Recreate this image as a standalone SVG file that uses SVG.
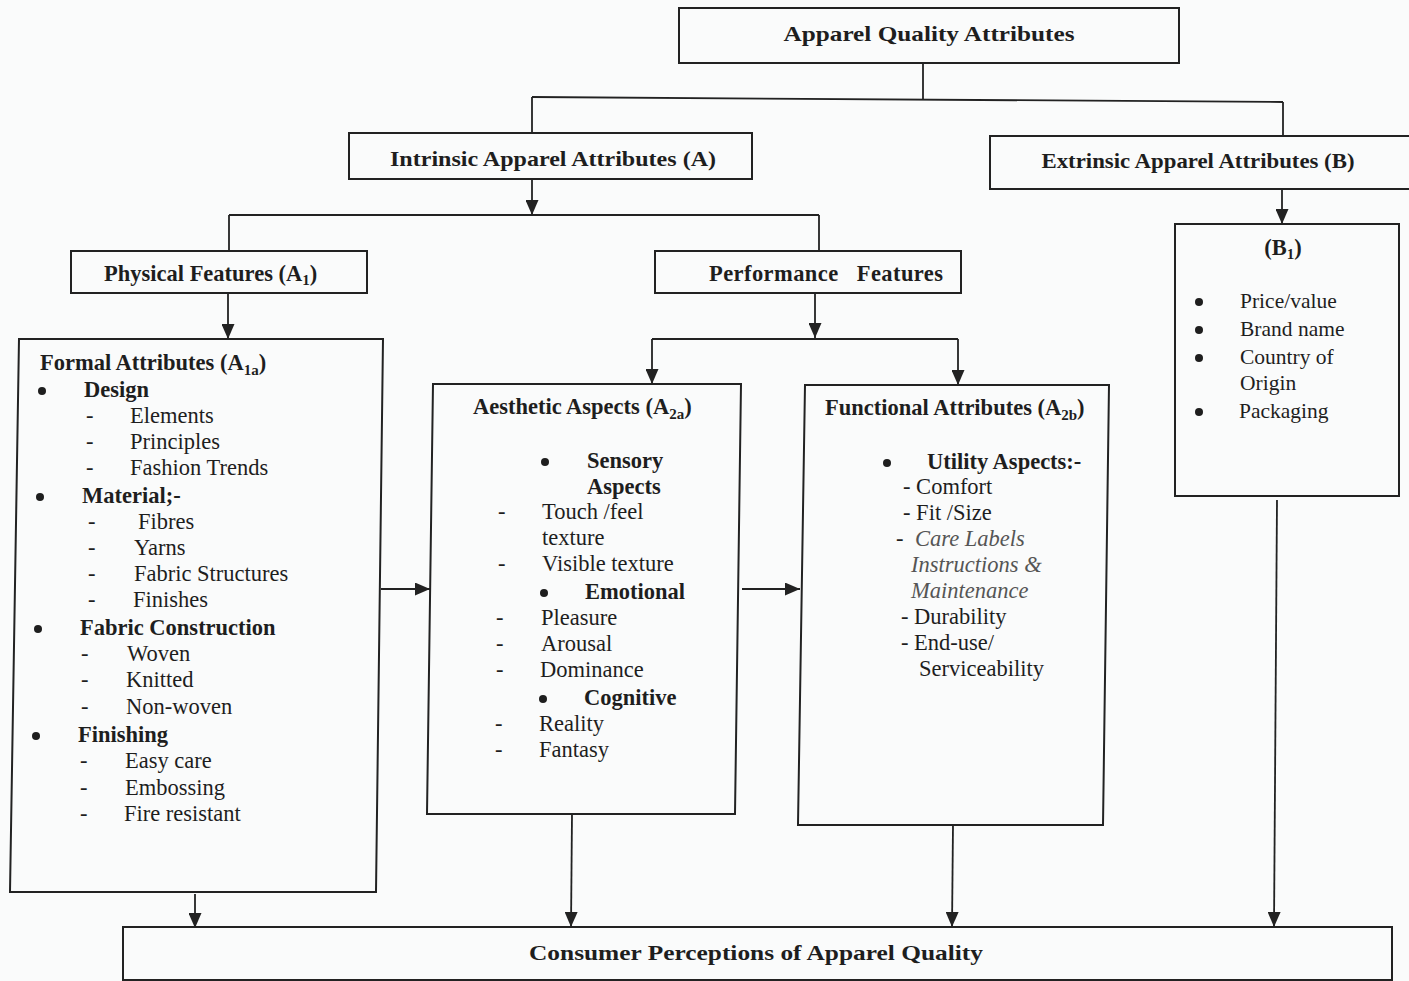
<svg xmlns="http://www.w3.org/2000/svg" width="1409" height="981" viewBox="0 0 1409 981">
<style>
.box{fill:none;stroke:#222;stroke-width:2}
.ln{fill:none;stroke:#222;stroke-width:1.8}
.arr{fill:none;stroke:#222;stroke-width:1.8;marker-end:url(#ah)}
.dot{fill:#1e1e1e}
text{font-family:"Liberation Serif","Times New Roman",serif;fill:#1e1e1e}
.h{font-weight:bold;font-size:22px}
.t{font-size:22.5px}
.b{font-weight:bold;font-size:22.5px}
.i{font-style:italic;font-size:22.5px;fill:#555}
.s{font-size:21.5px}
.sub{font-size:15px}
</style>
<defs>
<marker id="ah" markerWidth="15" markerHeight="13" refX="15" refY="6.5" orient="auto" markerUnits="userSpaceOnUse">
<path d="M0,0 L15,6.5 L0,13 z" fill="#222"/>
</marker>
</defs>
<rect width="1409" height="981" fill="#fafbfb"/>

<g id="connectors">
<line class="ln" x1="923" y1="63" x2="923" y2="100"/>
<line class="ln" x1="532" y1="97" x2="1283" y2="102"/>
<line class="ln" x1="532" y1="97" x2="532" y2="133"/>
<line class="ln" x1="1283" y1="102" x2="1283" y2="136"/>
<line class="arr" x1="532" y1="179" x2="532" y2="215"/>
<line class="ln" x1="229" y1="215" x2="819" y2="215"/>
<line class="ln" x1="229" y1="215" x2="229" y2="251"/>
<line class="ln" x1="819" y1="215" x2="819" y2="251"/>
<line class="arr" x1="228" y1="293" x2="228" y2="339"/>
<line class="arr" x1="815" y1="293" x2="815" y2="338"/>
<line class="ln" x1="652" y1="339" x2="958" y2="339"/>
<line class="arr" x1="652" y1="339" x2="652" y2="384"/>
<line class="arr" x1="958" y1="339" x2="958" y2="385"/>
<line class="arr" x1="1282" y1="189" x2="1282" y2="224"/>
<line class="arr" x1="381" y1="589" x2="430" y2="589"/>
<line class="arr" x1="742" y1="589" x2="800" y2="589"/>
<line class="arr" x1="195" y1="894" x2="195" y2="928"/>
<line class="arr" x1="572" y1="814" x2="571" y2="927"/>
<line class="arr" x1="953" y1="825" x2="952" y2="927"/>
<line class="arr" x1="1277" y1="500" x2="1274" y2="927"/>
</g>

<g id="top">
<rect class="box" x="679" y="8" width="500" height="55"/>
<text class="h" x="929" y="41" text-anchor="middle" textLength="291" lengthAdjust="spacingAndGlyphs">Apparel Quality Attributes</text>
</g>

<g id="intrinsic">
<rect class="box" x="349" y="133" width="403" height="46"/>
<text class="h" x="553" y="166" text-anchor="middle" textLength="326" lengthAdjust="spacingAndGlyphs">Intrinsic Apparel Attributes (A)</text>
</g>

<g id="extrinsic">
<rect class="box" x="990" y="136" width="425" height="53"/>
<text class="h" x="1198" y="168" text-anchor="middle" textLength="313" lengthAdjust="spacingAndGlyphs">Extrinsic Apparel Attributes (B)</text>
</g>

<g id="physical">
<rect class="box" x="71" y="251" width="296" height="42"/>
<text class="b" x="104" y="281">Physical Features (A<tspan class="sub" dy="4">1</tspan><tspan dy="-4">)</tspan></text>
</g>

<g id="performance">
<rect class="box" x="655" y="251" width="306" height="42"/>
<text class="b" x="709" y="281" xml:space="preserve" textLength="234" lengthAdjust="spacing">Performance   Features</text>
</g>

<g id="formal">
<path class="box" d="M19,339 L383,339 L376,892 L10,892 Z"/>
<text class="b" x="40" y="370">Formal Attributes (A<tspan class="sub" dy="5">1a</tspan><tspan dy="-5">)</tspan></text>
<circle class="dot" cx="42" cy="391" r="4"/><text class="b" x="84" y="397">Design</text>
<text class="t" x="86" y="423">-</text><text class="t" x="130" y="423">Elements</text>
<text class="t" x="86" y="449">-</text><text class="t" x="130" y="449">Principles</text>
<text class="t" x="86" y="475">-</text><text class="t" x="130" y="475">Fashion Trends</text>
<circle class="dot" cx="40" cy="497" r="4"/><text class="b" x="82" y="503">Material;-</text>
<text class="t" x="88" y="529">-</text><text class="t" x="138" y="529">Fibres</text>
<text class="t" x="88" y="555">-</text><text class="t" x="134" y="555">Yarns</text>
<text class="t" x="88" y="581">-</text><text class="t" x="134" y="581">Fabric Structures</text>
<text class="t" x="88" y="607">-</text><text class="t" x="133" y="607">Finishes</text>
<circle class="dot" cx="38" cy="629" r="4"/><text class="b" x="80" y="635">Fabric Construction</text>
<text class="t" x="81" y="661">-</text><text class="t" x="127" y="661">Woven</text>
<text class="t" x="81" y="687">-</text><text class="t" x="126" y="687">Knitted</text>
<text class="t" x="81" y="714">-</text><text class="t" x="126" y="714">Non-woven</text>
<circle class="dot" cx="36" cy="736" r="4"/><text class="b" x="78" y="742">Finishing</text>
<text class="t" x="80" y="768">-</text><text class="t" x="125" y="768">Easy care</text>
<text class="t" x="80" y="795">-</text><text class="t" x="125" y="795">Embossing</text>
<text class="t" x="80" y="821">-</text><text class="t" x="124" y="821">Fire resistant</text>
</g>

<g id="aesthetic">
<path class="box" d="M433,384 L741,384 L735,814 L427,814 Z"/>
<text class="b" x="473" y="414">Aesthetic Aspects (A<tspan class="sub" dy="5">2a</tspan><tspan dy="-5">)</tspan></text>
<circle class="dot" cx="545" cy="462" r="4"/><text class="b" x="587" y="468">Sensory</text>
<text class="b" x="587" y="494">Aspects</text>
<text class="t" x="498" y="519">-</text><text class="t" x="542" y="519">Touch /feel</text>
<text class="t" x="542" y="545">texture</text>
<text class="t" x="498" y="571">-</text><text class="t" x="542" y="571">Visible texture</text>
<circle class="dot" cx="544" cy="593" r="4"/><text class="b" x="585" y="599">Emotional</text>
<text class="t" x="496" y="625">-</text><text class="t" x="541" y="625">Pleasure</text>
<text class="t" x="496" y="651">-</text><text class="t" x="541" y="651">Arousal</text>
<text class="t" x="496" y="677">-</text><text class="t" x="540" y="677">Dominance</text>
<circle class="dot" cx="543" cy="699" r="4"/><text class="b" x="584" y="705">Cognitive</text>
<text class="t" x="495" y="731">-</text><text class="t" x="539" y="731">Reality</text>
<text class="t" x="495" y="757">-</text><text class="t" x="539" y="757">Fantasy</text>
</g>

<g id="functional">
<path class="box" d="M805,385 L1109,385 L1103,825 L798,825 Z"/>
<text class="b" x="825" y="415">Functional Attributes (A<tspan class="sub" dy="5">2b</tspan><tspan dy="-5">)</tspan></text>
<circle class="dot" cx="887" cy="463" r="4"/><text class="b" x="927" y="469">Utility Aspects:-</text>
<text class="t" x="903" y="494">- Comfort</text>
<text class="t" x="903" y="520">- Fit /Size</text>
<text class="t" x="896" y="546">-</text><text class="i" x="915" y="546">Care Labels</text>
<text class="i" x="911" y="572">Instructions &amp;</text>
<text class="i" x="911" y="598">Maintenance</text>
<text class="t" x="901" y="624">- Durability</text>
<text class="t" x="901" y="650">- End-use/</text>
<text class="t" x="919" y="676">Serviceability</text>
</g>

<g id="b1">
<rect class="box" x="1175" y="224" width="224" height="272"/>
<text class="b" x="1283" y="255" text-anchor="middle">(B<tspan class="sub" dy="4">1</tspan><tspan dy="-4">)</tspan></text>
<circle class="dot" cx="1199" cy="302" r="4"/><text class="s" x="1240" y="308">Price/value</text>
<circle class="dot" cx="1199" cy="330" r="4"/><text class="s" x="1240" y="336">Brand name</text>
<circle class="dot" cx="1199" cy="358" r="4"/><text class="s" x="1240" y="364">Country of</text>
<text class="s" x="1240" y="390">Origin</text>
<circle class="dot" cx="1199" cy="412" r="4"/><text class="s" x="1239" y="418">Packaging</text>
</g>

<g id="consumer">
<rect class="box" x="123" y="927" width="1269" height="53"/>
<text class="h" x="756" y="960" text-anchor="middle" textLength="454" lengthAdjust="spacingAndGlyphs">Consumer Perceptions of Apparel Quality</text>
</g>
</svg>
